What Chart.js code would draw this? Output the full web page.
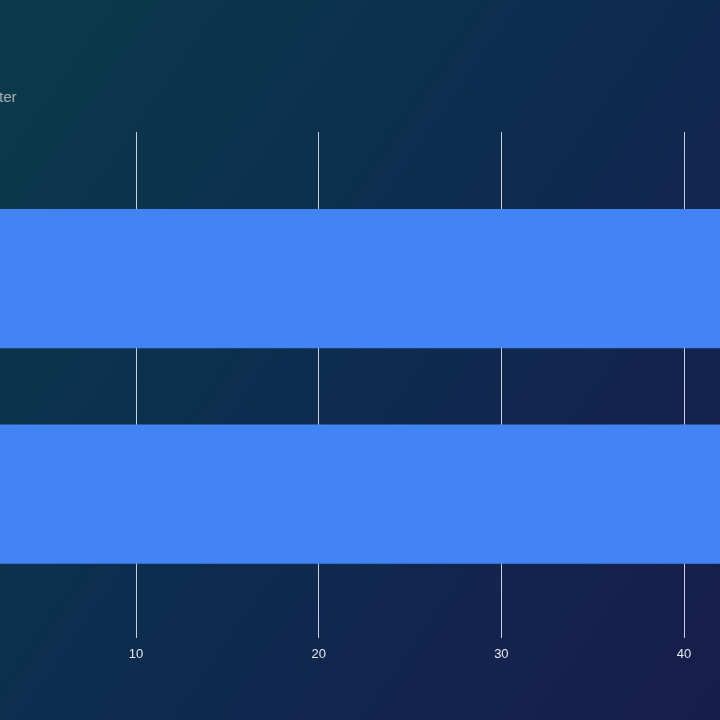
<!DOCTYPE html>
<html>
<head>
<meta charset="utf-8">
<script src="https://cdn.jsdelivr.net/npm/chart.js@4"></script>
<style>
  html, body { margin: 0; padding: 0; }
  #wrap {
    position: relative; width: 720px; height: 720px; overflow: hidden;
    background: linear-gradient(125deg, #0b3b4b 0%, #0c304d 35%, #0f2a4f 55%, #14234f 78%, #171d4a 100%);
  }
  #sub {
    position: absolute; left: -1px; top: 88px;
    font-family: "Liberation Sans", Arial, sans-serif; font-size: 15px;
    color: #a2acb6; white-space: nowrap;
  }
  canvas { position: absolute; left: 0; top: 0; }
</style>
</head>
<body>
<div id="wrap">
  <div id="sub">ter</div>
  <canvas id="c" width="720" height="720"></canvas>
</div>
<script>
// Data (both bars run past the right edge)
const categories = ['Bar 1', 'Bar 2'];
const categoryIndex = [0, 1];
const barValues = [45, 45];
const xTicks = [10, 20, 30, 40];
const xRange = [2.55, 41.97];
const yRange = [-0.68, 1.67];

const points = categoryIndex.map((c, i) => ({ y: c, x: barValues[i], label: categories[i] }));

new Chart(document.getElementById('c'), {
  type: 'bar',
  data: {
    datasets: [{
      data: points,
      backgroundColor: '#4384f5',
      borderWidth: 0,
      barPercentage: 0.808,
      categoryPercentage: 0.8
    }]
  },
  options: {
    indexAxis: 'y',
    responsive: false,
    animation: false,
    layout: { padding: { top: 132, bottom: 50, left: 0, right: 0 } },
    plugins: { legend: { display: false }, tooltip: { enabled: false } },
    scales: {
      x: {
        type: 'linear',
        position: 'bottom',
        min: xRange[0], max: xRange[1],
        afterBuildTicks: s => { s.ticks = xTicks.map(v => ({ value: v })); },
        grid: { color: 'rgba(230,236,244,0.85)', lineWidth: 1, drawTicks: false },
        border: { display: false },
        ticks: {
          color: '#e4e8ef', padding: 8,
          font: { family: '"Liberation Sans", Arial, sans-serif', size: 13 }
        }
      },
      y: {
        type: 'linear',
        reverse: true,
        offset: false,
        min: yRange[0], max: yRange[1],
        afterBuildTicks: s => { s.ticks = categoryIndex.map(v => ({ value: v })); },
        grid: { display: false, drawTicks: false, offset: false },
        border: { display: false },
        ticks: { display: false }
      }
    }
  }
});
</script>
</body>
</html>
